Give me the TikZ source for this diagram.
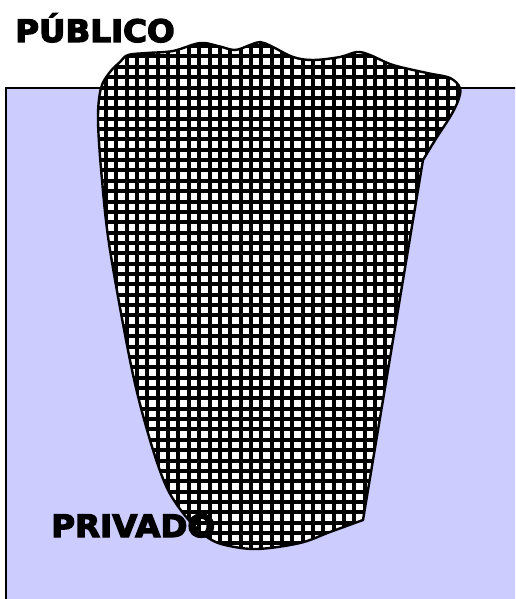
\documentclass[tikz,border=0pt]{standalone}
\usepackage{fontspec}
\newfontfamily\labelfont[BoldFeatures={FakeBold=4}]{DejaVu Sans}
\usepackage{tikz}
\definecolor{lavender}{RGB}{204,204,255}
\tikzset{
    gridline/.style={line width=4pt, black},
    label/.style={font=\labelfont\bfseries\fontsize{31}{31}\selectfont, xscale=1.05, anchor=base west, inner sep=0pt}
}
\def\blob{(423,160) -- (363,520) -- plot[smooth, tension=0.55] coordinates {(363,520) (330,532) (300,543) (257,549) (225,545) (207,537) (187,518) (167,488) (150,440) (132,370) (110,250) (102,180) (98,120) (101,88) (110,72) (120,62) (128,55) (147,53) (173,51) (200,43) (218,46) (235,50) (250,45) (260,42) (271,46) (293,57) (313,60) (340,57) (357,52) (370,55) (393,65) (427,73) (450,78) (460,88) (458,101) (450,117) (437,137) (423,160)} -- cycle}

\begin{document}
\begin{tikzpicture}[x=1pt,y=-1pt]
\useasboundingbox (0,0) rectangle (515,599);
\clip (0,0) rectangle (515,599);

% Background
\draw[fill=lavender, line width=2pt] (6,88) rectangle (530,620);

% Blob with grid
\fill[white] \blob;
\begin{scope}
\clip \blob;
\foreach \i in {-5,...,34}
    \draw[gridline] (126.7+10.35*\i,30) -- ++(0,540);
\foreach \j in {-22,...,30}
    \draw[gridline] (80,253.3+10.36*\j) -- ++(400,0);
\end{scope}
\draw[line width=2.4pt, line join=round] \blob;

% Labels
\node[label] (publico) at (15,42) {PÚBLICO};
\node[label] (privado) at (51,537) {PRIVADO};

\end{tikzpicture}
\end{document}
